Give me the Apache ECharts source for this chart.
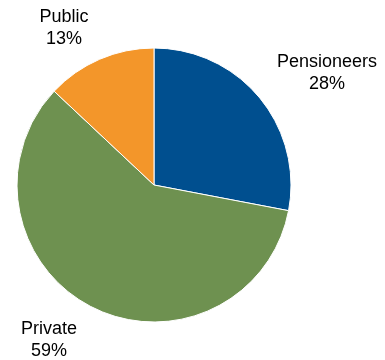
<!DOCTYPE html>
<html><head><meta charset="utf-8">
<script src="https://cdn.jsdelivr.net/npm/echarts@6/dist/echarts.min.js"></script>
<style>html,body{margin:0;padding:0;background:#fff}#c{width:385px;height:360px}</style>
</head><body><div id="c"></div>
<script>
var categories = ['Pensioneers', 'Private', 'Public'];
var values = [28, 59, 13];
var colors = ['#004F8F', '#6E9150', '#F3962A'];
var labelPos = [[327, 73], [49, 340], [64, 28]];

var chart = echarts.init(document.getElementById('c'));
chart.setOption({
  animation: false,
  series: [{
    type: 'pie',
    center: [154, 185],
    radius: [0, 137],
    startAngle: 90,
    clockwise: true,
    avoidLabelOverlap: false,
    itemStyle: { borderColor: '#fff', borderWidth: 1 },
    label: {
      show: true,
      position: 'outside',
      formatter: function (p) { return p.name + '\n' + p.value + '%'; },
      fontFamily: 'Liberation Sans, Arial, sans-serif',
      fontSize: 18,
      lineHeight: 22,
      color: '#000',
      align: 'center',
      overflow: 'none',
      width: 200
    },
    labelLine: { show: false },
    labelLayout: function (p) {
      var pos = labelPos[p.dataIndex];
      return { x: pos[0], y: pos[1], align: 'center', verticalAlign: 'middle' };
    },
    data: categories.map(function (c, i) {
      return { name: c, value: values[i], itemStyle: { color: colors[i] } };
    })
  }]
});
</script></body></html>
